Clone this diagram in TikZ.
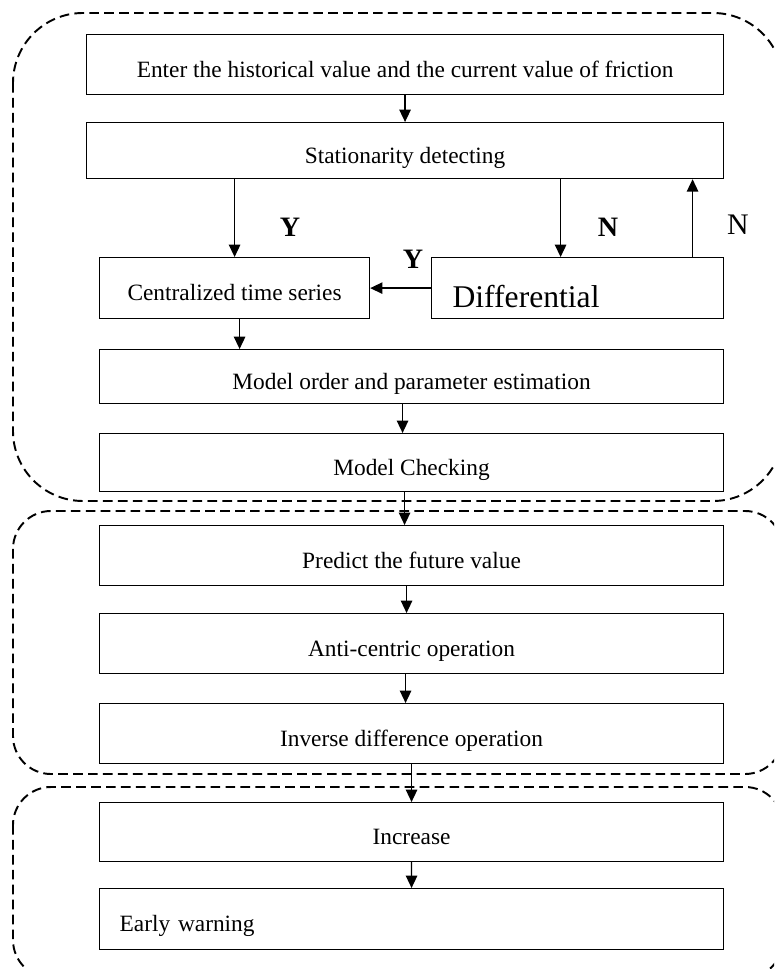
\documentclass[tikz,border=0pt]{standalone}
\usepackage{fontspec}
\setmainfont{Liberation Serif}
\usetikzlibrary{arrows.meta}

\tikzset{
	stage/.style={draw, line width=0.7pt, anchor=north west, minimum width=12.48cm, minimum height=1.2cm, inner sep=0pt, text height=15pt, text depth=0.6pt, font=\fontsize{13.3}{16}\selectfont},
	flow/.style={line width=0.7pt, -{Triangle[length=7pt,width=6.5pt]}},
	region/.style={line width=1.1pt, dash pattern=on 5.5pt off 3pt},
	answer/.style={font=\fontsize{16}{19}\selectfont\bfseries},
}

\begin{document}
\begin{tikzpicture}[x=0.02cm, y=-0.02cm]
	\useasboundingbox (0,0) rectangle (774,969);
	\begin{scope}
		\clip (0,0) rectangle (774,969);
		\draw[region, rounded corners=1.4cm] (13,13) rectangle (783,501);
		\draw[region, rounded corners=0.76cm] (13,511) rectangle (783,774);
		\draw[region, rounded corners=0.76cm] (13,787) rectangle (783,978);
	\end{scope}
	
	\node[stage, minimum width=12.74cm] (enter) at (86,34) {Enter the historical value and the current value of friction};
	\node[stage, minimum width=12.74cm, minimum height=1.12cm] (detect) at (86,122) {Stationarity detecting};
	\node[stage, minimum width=5.4cm, minimum height=1.22cm] (centre) at (99,257) {Centralized time series};
	\node[stage, minimum width=0pt, minimum height=1.22cm, text width=5cm, inner xsep=0.42cm, align=left, text height=22.5pt, text depth=0.5pt, font=\fontsize{18}{21}\selectfont] (diff) at (431,257) {Differential};
	\node[stage, minimum height=1.08cm] (order) at (99,349) {Model order and parameter estimation};
	\node[stage, minimum height=1.16cm] (check) at (99,433) {Model Checking};
	\node[stage] (predict) at (99,525) {Predict the future value};
	\node[stage] (anti) at (99,613) {Anti-centric operation};
	\node[stage] (inverse) at (99,703) {Inverse difference operation};
	\node[stage, minimum height=1.18cm] (increase) at (99,802) {Increase};
	\node[stage, minimum width=0pt, minimum height=1.22cm, text width=11.68cm, inner xsep=0.4cm, align=left] (warning) at (99,888) {Early warning};
	
	\node[answer] (yes1) at (290,227) {Y};
	\node[answer] (no1) at (608,227) {N};
	\node[answer] (yes2) at (413,259) {Y};
	\node[font=\fontsize{17}{20}\selectfont] (no2) at (738,225) {N};
	
	\draw[flow] (enter) -- (detect);
	\draw[flow] (detect.south -| centre.north) -- (centre.north);
	\draw[flow] ([xshift=-0.34cm]diff.north |- detect.south) -- ([xshift=-0.34cm]diff.north);
	\draw[flow] ([xshift=2.3cm]diff.north) -- ([xshift=2.3cm]diff.north |- detect.south);
	\draw[flow] (diff) -- (centre);
	\draw[flow] ([xshift=0.1cm]centre.south) -- ([xshift=0.1cm]centre.south |- order.north);
	\draw[flow] ([xshift=-0.18cm]order.south) -- ([xshift=-0.18cm]order.south |- check.north);
	\draw[flow] ([xshift=-0.14cm]check.south) -- ([xshift=-0.14cm]check.south |- predict.north);
	\draw[flow] ([xshift=-0.1cm]predict.south) -- ([xshift=-0.1cm]predict.south |- anti.north);
	\draw[flow] ([xshift=-0.12cm]anti.south) -- ([xshift=-0.12cm]anti.south |- inverse.north);
	\draw[flow] (inverse) -- (increase);
	\draw[flow] (increase) -- (warning);
\end{tikzpicture}
\end{document}
